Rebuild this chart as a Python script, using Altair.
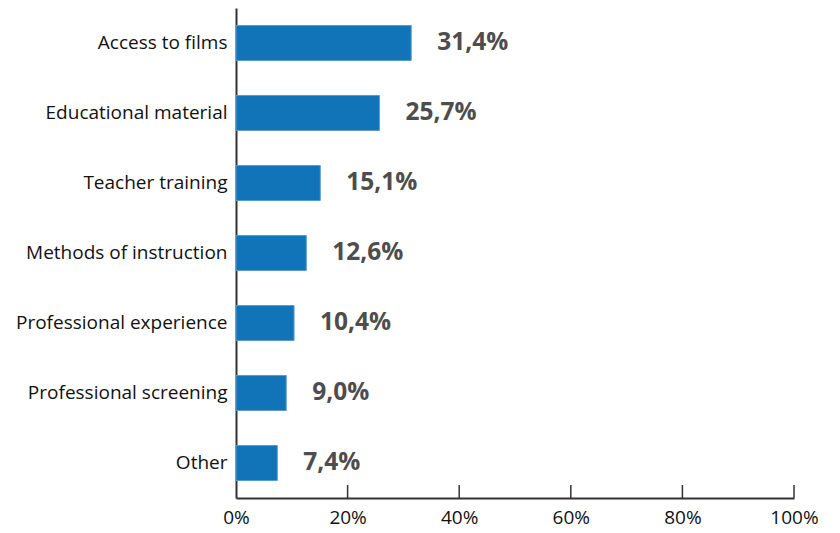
import altair as alt
import pandas as pd

categories = ["Access to films", "Educational material", "Teacher training",
              "Methods of instruction", "Professional experience",
              "Professional screening", "Other"]
values = [31.4, 25.7, 15.1, 12.6, 10.4, 9.0, 7.4]
value_labels = ["31,4%", "25,7%", "15,1%", "12,6%", "10,4%", "9,0%", "7,4%"]
x_ticks = [0, 20, 40, 60, 80, 100]

df = pd.DataFrame({"category": categories, "value": values, "label": value_labels})
tick_df = pd.DataFrame({"tick": x_ticks[1:]})

W, H = 558, 490
FONT = "Open Sans"

xscale = alt.Scale(domain=[0, 100], nice=False)
yenc = alt.Y("category:N", sort=categories,
             scale=alt.Scale(paddingInner=0.5, paddingOuter=0.25),
             axis=alt.Axis(title=None, ticks=False, labelFontSize=19, labelFont=FONT,
                           labelColor="#111", labelPadding=9, labelLimit=400,
                           domainColor="#333", domainWidth=2))

bars = alt.Chart(df).mark_bar(color="#1174b9", stroke="#5a9acd", strokeWidth=1).encode(
    x=alt.X("value:Q", scale=xscale,
            axis=alt.Axis(title=None, values=x_ticks, labelExpr="datum.value + '%'",
                          ticks=False, grid=False, labelFontSize=19, labelFont=FONT,
                          labelColor="#111", labelPadding=10, labelFlush=False,
                          domainColor="#333", domainWidth=2)),
    y=yenc,
)

text = alt.Chart(df).mark_text(align="left", baseline="middle", dx=26, fontWeight="bold",
                               fontSize=24.5, font=FONT, color="#4d4d4d").encode(
    x=alt.X("value:Q", scale=xscale),
    y=alt.Y("category:N", sort=categories),
    text="label:N",
)

ticks = alt.Chart(tick_df).mark_rule(color="#333", strokeWidth=1.5).encode(
    x=alt.X("tick:Q", scale=xscale),
    y=alt.value(H),
    y2=alt.value(H - 13),
)

chart = alt.layer(bars, text, ticks).properties(
    width=W, height=H, background="white",
    padding={"left": 7, "top": 0, "right": 5, "bottom": 4},
).configure_view(stroke=None)

chart.save("out.html", embed_options={"renderer": "svg", "actions": False})
